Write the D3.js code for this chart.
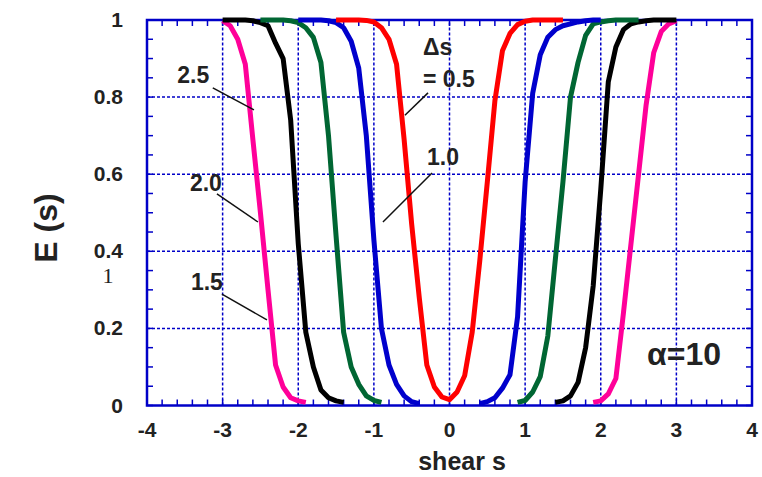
<!DOCTYPE html>
<html>
<head>
<meta charset="utf-8">
<script src="https://cdn.jsdelivr.net/npm/d3@7"></script>
<style>
  body { margin: 0; background: #fff; }
  text { font-family: "Liberation Sans", Arial, sans-serif; font-weight: bold; fill: #222; }
</style>
</head>
<body>
<div id="chart"></div>
<script>
var _ = null;

// shear values s (sample grid)
var shear = [
  -3.0, -2.9, -2.8, -2.7, -2.6, -2.5, -2.4, -2.3, -2.2, -2.1,
  -2.0, -1.9, -1.8, -1.7, -1.6, -1.5, -1.4, -1.3, -1.2, -1.1,
  -1.0, -0.9, -0.8, -0.7, -0.6, -0.5, -0.4, -0.3, -0.2, -0.1,
   0.0,  0.1,  0.2,  0.3,  0.4,  0.5,  0.6,  0.7,  0.8,  0.9,
   1.0,  1.1,  1.2,  1.3,  1.4,  1.5,  1.6,  1.7,  1.8,  1.9,
   2.0,  2.1,  2.2,  2.3,  2.4,  2.5,  2.6,  2.7,  2.8,  2.9,
   3.0
];

// E(s) for each delta s (null = not drawn)
var eDs25 = [
  0.998, 0.985, 0.95, 0.885, 0.69, 0.50, 0.30, 0.105, 0.048, 0.02,
  0.012, 0.008, _, _, _, _, _, _, _, _,
  _, _, _, _, _, _, _, _, _, _,
  _, _, _, _, _, _, _, _, _, _,
  _, _, _, _, _, _, _, _, _, 0.008,
  0.012, 0.03, 0.07, 0.24, 0.42, 0.60, 0.78, 0.915, 0.97, 0.99,
  0.998
];
var eDs20 = [
  1, 1, 1, 1, 0.998, 0.993, 0.985, 0.94, 0.90, 0.74,
  0.42, 0.19, 0.10, 0.04, 0.02, 0.012, 0.008, _, _, _,
  _, _, _, _, _, _, _, _, _, _,
  _, _, _, _, _, _, _, _, _, _,
  _, _, _, _, 0.008, 0.012, 0.025, 0.06, 0.15, 0.31,
  0.56, 0.84, 0.93, 0.975, 0.99, 0.995, 0.998, 1, 1, 1,
  1
];
var eDs15 = [
  _, _, _, _, _, 1, 1, 1, 1, 0.998,
  0.993, 0.98, 0.955, 0.89, 0.70, 0.44, 0.19, 0.10, 0.055, 0.025,
  0.013, 0.008, _, _, _, _, _, _, _, _,
  _, _, _, _, _, _, _, _, _, 0.008,
  0.013, 0.035, 0.075, 0.18, 0.38, 0.58, 0.80, 0.89, 0.96, 0.99,
  0.995, 0.998, 1, 1, 1, 1, _, _, _, _,
  _
];
var eDs10 = [
  _, _, _, _, _, _, _, _, _, _,
  1, 1, 1, 1, 0.998, 0.993, 0.98, 0.945, 0.875, 0.70,
  0.43, 0.20, 0.105, 0.055, 0.025, 0.01, 0.005, _, _, _,
  _, _, _, _, 0.005, 0.01, 0.02, 0.045, 0.08, 0.23,
  0.58, 0.81, 0.91, 0.955, 0.975, 0.985, 0.99, 0.995, 0.998, 1,
  1, _, _, _, _, _, _, _, _, _,
  _
];
var eDs05 = [
  _, _, _, _, _, _, _, _, _, _,
  _, _, _, _, _, 1, 1, 1, 1, 0.999,
  0.995, 0.98, 0.95, 0.885, 0.69, 0.47, 0.28, 0.105, 0.048, 0.022,
  0.015, 0.035, 0.077, 0.19, 0.375, 0.58, 0.79, 0.92, 0.965, 0.988,
  0.997, 1, 1, 1, 1, 1, _, _, _, _,
  _, _, _, _, _, _, _, _, _, _,
  _
];

var seriesNames = ['2.5', '2.0', '1.5', '1.0', '0.5'];
var seriesValues = [eDs25, eDs20, eDs15, eDs10, eDs05];
var seriesColors = ['#ff0099', '#000000', '#006633', '#0000cc', '#ff0000'];

var xTicks = [-4, -3, -2, -1, 0, 1, 2, 3, 4];
var yTicks = [0, 0.2, 0.4, 0.6, 0.8, 1];

// annotations in data units: label, label pos, leader line from -> to
var notes = [
  { text: '2.5', at: [-3.60, 0.836], from: [-3.13, 0.824], to: [-2.586, 0.767] },
  { text: '2.0', at: [-3.433, 0.556], from: [-3.075, 0.549], to: [-2.533, 0.476] },
  { text: '1.5', at: [-3.419, 0.300], from: [-3.009, 0.289], to: [-2.414, 0.222] },
  { text: '1.0', at: [-0.298, 0.624], from: [-0.231, 0.603], to: [-0.880, 0.476] },
  { text: '= 0.5', at: [-0.351, 0.826], from: [-0.284, 0.811], to: [-0.589, 0.753] },
  { text: '\u0394s', at: [-0.351, 0.909] }
];

var W = 762, H = 477;
var svg = d3.select('#chart').append('svg')
  .attr('width', W).attr('height', H);

var x = d3.scaleLinear().domain([-4, 4]).range([147, 752]);
var y = d3.scaleLinear().domain([0, 1]).range([405.5, 20]);
var axisBlue = '#0000c8';

// grid
var g = svg.append('g');
g.selectAll('.gx').data(xTicks.slice(1, -1)).enter().append('line')
  .attr('x1', function(d) { return x(d); }).attr('x2', function(d) { return x(d); })
  .attr('y1', y(0)).attr('y2', y(1))
  .attr('stroke', axisBlue).attr('stroke-width', 1.5).attr('stroke-dasharray', '3,2');
g.selectAll('.gy').data(yTicks.slice(1, -1)).enter().append('line')
  .attr('x1', x(-4)).attr('x2', x(4))
  .attr('y1', function(d) { return y(d); }).attr('y2', function(d) { return y(d); })
  .attr('stroke', axisBlue).attr('stroke-width', 1.5).attr('stroke-dasharray', '3,2');

// minor ticks (inward)
var xMinor = d3.range(-4, 4.001, 0.2);
var yMinor = d3.range(0, 1.001, 0.05);
var tl = 6;
g.selectAll('.tb').data(xMinor).enter().append('line')
  .attr('x1', function(d) { return x(d); }).attr('x2', function(d) { return x(d); })
  .attr('y1', y(0)).attr('y2', y(0) - tl).attr('stroke', axisBlue).attr('stroke-width', 1.5);
g.selectAll('.tt').data(xMinor).enter().append('line')
  .attr('x1', function(d) { return x(d); }).attr('x2', function(d) { return x(d); })
  .attr('y1', y(1)).attr('y2', y(1) + tl).attr('stroke', axisBlue).attr('stroke-width', 1.5);
g.selectAll('.tlft').data(yMinor).enter().append('line')
  .attr('x1', x(-4)).attr('x2', x(-4) + tl)
  .attr('y1', function(d) { return y(d); }).attr('y2', function(d) { return y(d); })
  .attr('stroke', axisBlue).attr('stroke-width', 1.5);
g.selectAll('.trgt').data(yMinor).enter().append('line')
  .attr('x1', x(4)).attr('x2', x(4) - tl)
  .attr('y1', function(d) { return y(d); }).attr('y2', function(d) { return y(d); })
  .attr('stroke', axisBlue).attr('stroke-width', 1.5);

// frame
svg.append('rect')
  .attr('x', x(-4)).attr('y', y(1))
  .attr('width', x(4) - x(-4)).attr('height', y(0) - y(1))
  .attr('fill', 'none').attr('stroke', axisBlue).attr('stroke-width', 2.5);

// curves
var line = d3.line()
  .defined(function(d) { return d[1] !== null; })
  .x(function(d) { return x(d[0]); })
  .y(function(d) { return y(d[1]); });

seriesValues.forEach(function(vals, k) {
  var pts = shear.map(function(s, i) { return [s, vals[i]]; });
  svg.append('path')
    .datum(pts)
    .attr('d', line)
    .attr('fill', 'none')
    .attr('stroke', seriesColors[k])
    .attr('stroke-width', 5)
    .attr('stroke-linejoin', 'round');
});

// tick labels
svg.selectAll('.xl').data(xTicks).enter().append('text')
  .attr('x', function(d) { return x(d); }).attr('y', 437)
  .attr('text-anchor', 'middle').style('font-size', '21px')
  .text(function(d) { return d; });
svg.selectAll('.yl').data(yTicks).enter().append('text')
  .attr('x', 123).attr('y', function(d) { return y(d) + 7; })
  .attr('text-anchor', 'end').style('font-size', '21px')
  .text(function(d) { return d; });

// stray serif "1"
svg.append('text')
  .attr('x', 108).attr('y', 283).attr('text-anchor', 'middle')
  .style('font-family', '"Liberation Serif", "Times New Roman", serif')
  .style('font-weight', 'normal').style('font-size', '22px')
  .text('1');

// axis titles
svg.append('text')
  .attr('transform', 'translate(57,228) rotate(-90)')
  .attr('text-anchor', 'middle').style('font-size', '32px')
  .text('E (s)');
svg.append('text')
  .attr('x', 462).attr('y', 470).attr('text-anchor', 'middle')
  .style('font-size', '25px').text('shear s');

// annotations
notes.forEach(function(n) {
  svg.append('text')
    .attr('x', x(n.at[0])).attr('y', y(n.at[1]))
    .style('font-size', '23px').text(n.text);
  if (n.from) {
    svg.append('line')
      .attr('x1', x(n.from[0])).attr('y1', y(n.from[1]))
      .attr('x2', x(n.to[0])).attr('y2', y(n.to[1]))
      .attr('stroke', '#111').attr('stroke-width', 1.5);
  }
});

svg.append('text')
  .attr('x', x(2.612)).attr('y', y(0.105))
  .style('font-size', '32px').text('\u03b1=10');
</script>
</body>
</html>
